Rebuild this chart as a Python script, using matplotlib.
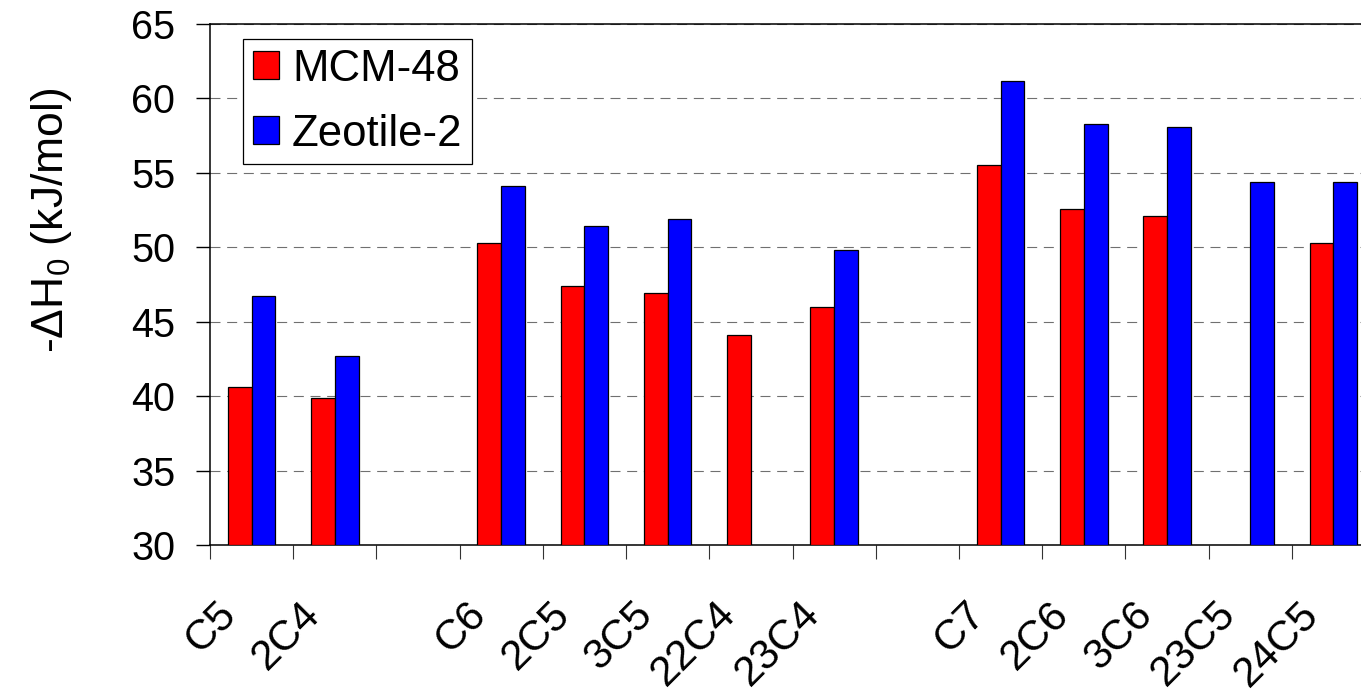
import numpy as np
import matplotlib.pyplot as plt
import matplotlib.transforms as mtransforms

plt.rcParams['font.family'] = ['Liberation Sans', 'DejaVu Sans']

# 数据 (空字符串 = 空位)
categories = ['C5', '2C4', '', 'C6', '2C5', '3C5', '22C4', '23C4', '',
              'C7', '2C6', '3C6', '23C5', '24C5']
mcm48 = [40.6, 39.9, np.nan, 50.3, 47.4, 46.9, 44.1, 46.0, np.nan,
         55.5, 52.6, 52.1, np.nan, 50.3]
zeotile2 = [46.7, 42.7, np.nan, 54.1, 51.4, 51.9, np.nan, 49.8, np.nan,
            61.2, 58.3, 58.1, 54.4, 54.4]
series_names = ['MCM-48', 'Zeotile-2']
yticks = [30, 35, 40, 45, 50, 55, 60, 65]

red = '#ff0000'
blue = '#0000ff'

fig = plt.figure(figsize=(13.61, 6.94), dpi=100)
ax = fig.add_axes([210 / 1361, 149 / 694, 1165 / 1361, 521 / 694])

x = np.arange(len(categories))
m1 = ~np.isnan(mcm48)
m2 = ~np.isnan(zeotile2)
w = 0.286

ax.bar(x[m1] - w / 2, np.array(mcm48)[m1] - 30, width=w, bottom=30,
       color=red, edgecolor='black', linewidth=0.9, label=series_names[0], zorder=3)
ax.bar(x[m2] + w / 2, np.array(zeotile2)[m2] - 30, width=w, bottom=30,
       color=blue, edgecolor='black', linewidth=0.9, label=series_names[1], zorder=3)

ax.set_xlim(-0.5, len(categories) - 0.5)
ax.set_ylim(30, 65)
ax.set_yticks(yticks)

# 网格线
ax.yaxis.grid(True, color='#707070', linestyle=(0, (9, 6)), linewidth=0.8, zorder=0)
ax.set_axisbelow(True)

# 坐标轴
for s in ['left', 'bottom', 'top', 'right']:
    ax.spines[s].set_linewidth(1.1)
    ax.spines[s].set_color('black')

ax.set_xticks(np.arange(-0.5, len(categories), 1.0))
ax.set_xticklabels([])
ax.tick_params(axis='x', direction='out', length=10, width=0.8, color='#333333')
ax.tick_params(axis='y', direction='out', length=10, width=1.0, labelsize=28.5, pad=15)

# 类别标签 (45度旋转)
offset = mtransforms.ScaledTranslation(-0.35, -0.49, fig.dpi_scale_trans)
trans = ax.get_xaxis_transform() + offset
for xi, name in zip(x, categories):
    if name:
        ax.text(xi, 0, name, transform=trans, rotation=45, rotation_mode='anchor',
                ha='right', va='top', fontsize=30.5)

fig.text(52 / 1361, 1 - 220 / 694, r'-ΔH$_\mathregular{0}$ (kJ/mol)', rotation=90,
         ha='center', va='center', fontsize=32)

# 图例
leg = ax.legend(loc='upper left', bbox_to_anchor=(0.0283, 0.971), borderaxespad=0,
                fontsize=31.5, frameon=True, fancybox=False, framealpha=1,
                edgecolor='black', handlelength=0.6, handleheight=0.6,
                handletextpad=0.3, labelspacing=0.55, borderpad=0.22)
leg.get_frame().set_linewidth(0.9)

plt.savefig('out.png', dpi=100)
plt.close()
